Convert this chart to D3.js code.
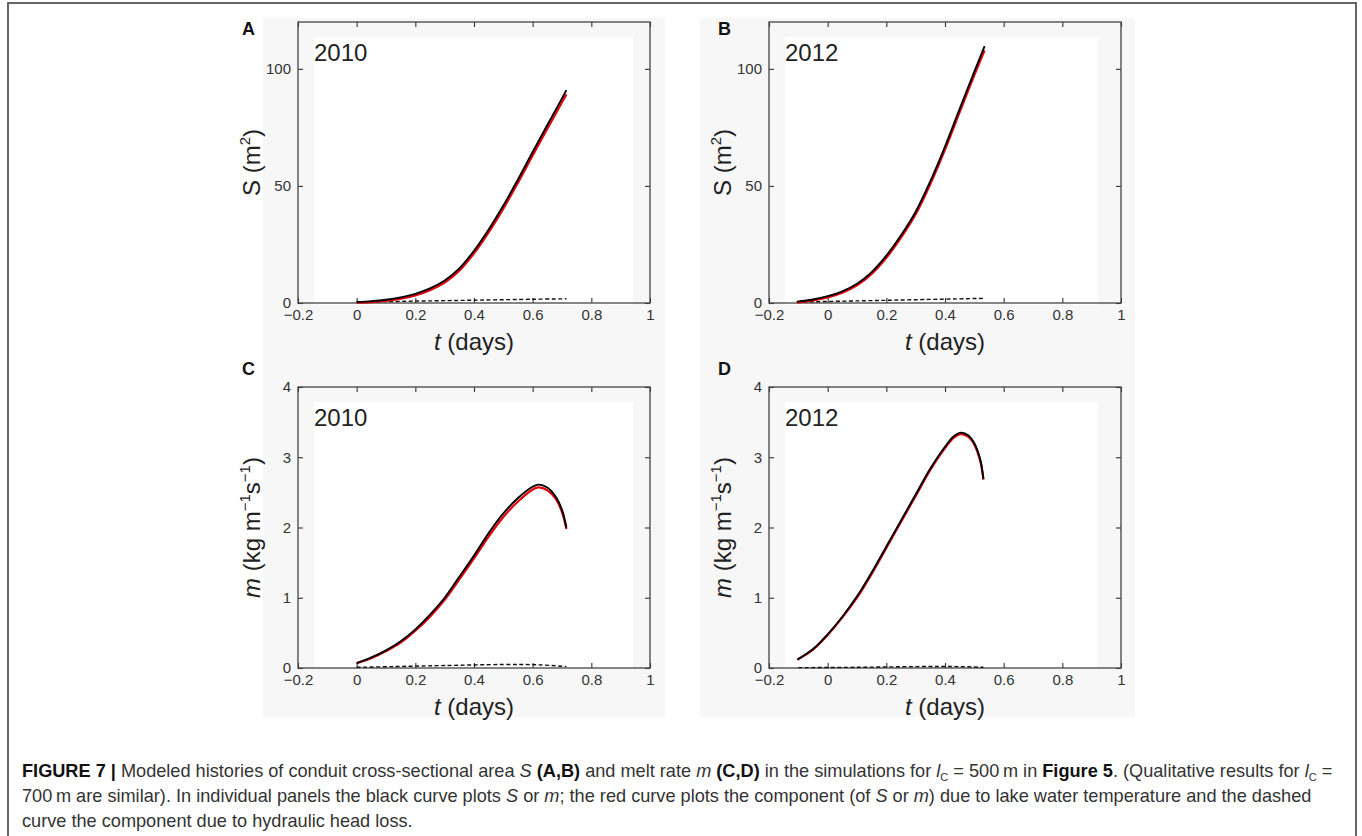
<!DOCTYPE html>
<html>
<head>
<meta charset="utf-8">
<script src="https://cdn.jsdelivr.net/npm/d3@7"></script>
<style>
  body { margin: 0; background: #fff; }
  svg text { font-family: "Liberation Sans", Arial, sans-serif; }
  .axis line { stroke: #333; stroke-width: 1.1; }
</style>
</head>
<body>
<svg id="fig" width="1362" height="836"></svg>
<script>
// tick labels shared by every panel
var xTicks = [-0.2, 0, 0.2, 0.4, 0.6, 0.8, 1];
var sTicks = [0, 50, 100];
var mTicks = [0, 1, 2, 3, 4];

// (A) 2010, conduit area S (m^2)
var tS2010 = [0, 0.05, 0.1, 0.15, 0.2, 0.25, 0.3, 0.35, 0.4, 0.45, 0.5, 0.55, 0.6, 0.65, 0.7, 0.715];
var S2010 = [0.4, 0.8, 1.4, 2.4, 3.9, 6.2, 9.6, 14.8, 22.3, 31.4, 41.6, 52.8, 64.5, 76.0, 87.4, 90.9];
var S2010lake = [0.1, 0.4, 0.9, 1.8, 3.2, 5.4, 8.7, 13.8, 21.2, 30.2, 40.3, 51.4, 63.0, 74.4, 85.7, 89.1];
var tS2010head = [0, 0.2, 0.4, 0.6, 0.715];
var S2010head = [0.4, 0.8, 1.2, 1.6, 1.8];

// (B) 2012, conduit area S (m^2)
var tS2012 = [-0.105, -0.05, 0, 0.05, 0.1, 0.15, 0.2, 0.25, 0.3, 0.35, 0.4, 0.45, 0.5, 0.535];
var S2012 = [0.6, 1.5, 2.9, 5.0, 8.2, 13.2, 20.2, 28.9, 39.0, 52.0, 66.8, 82.9, 98.8, 109.7];
var S2012lake = [0.2, 1.1, 2.4, 4.4, 7.5, 12.4, 19.3, 27.9, 37.9, 50.8, 65.5, 81.5, 97.3, 107.9];
var tS2012head = [-0.105, 0.1, 0.3, 0.535];
var S2012head = [0.4, 0.9, 1.4, 2.0];

// (C) 2010, melt rate m (kg m^-1 s^-1)
var tM2010 = [0, 0.05, 0.1, 0.15, 0.2, 0.25, 0.3, 0.35, 0.4, 0.45, 0.5, 0.55, 0.6, 0.62, 0.65, 0.68, 0.7, 0.715];
var m2010 = [0.07, 0.15, 0.25, 0.38, 0.55, 0.76, 1.0, 1.3, 1.6, 1.92, 2.2, 2.42, 2.58, 2.61, 2.57, 2.43, 2.25, 2.0];
var m2010lake = [0.07, 0.14, 0.24, 0.36, 0.53, 0.73, 0.97, 1.26, 1.56, 1.87, 2.15, 2.37, 2.54, 2.57, 2.53, 2.40, 2.22, 1.98];
var tM2010head = [0, 0.12, 0.3, 0.5, 0.62, 0.715];
var m2010head = [0.01, 0.02, 0.035, 0.05, 0.045, 0.02];

// (D) 2012, melt rate m (kg m^-1 s^-1)
var tM2012 = [-0.103, -0.05, 0, 0.05, 0.1, 0.15, 0.2, 0.25, 0.3, 0.35, 0.4, 0.43, 0.455, 0.48, 0.5, 0.52, 0.531];
var m2012 = [0.12, 0.27, 0.48, 0.73, 1.02, 1.36, 1.73, 2.1, 2.47, 2.84, 3.15, 3.3, 3.35, 3.31, 3.2, 2.97, 2.69];
var m2012lake = [0.12, 0.26, 0.47, 0.72, 1.0, 1.34, 1.71, 2.08, 2.45, 2.82, 3.13, 3.28, 3.33, 3.29, 3.18, 2.95, 2.68];
var tM2012head = [-0.1, 0.1, 0.3, 0.45, 0.531];
var m2012head = [0.005, 0.01, 0.02, 0.02, 0.01];

var W = 352, H = 281;

var svg = d3.select("#fig");

// outer frame of the figure box
svg.append("rect")
  .attr("x", 8).attr("y", 3)
  .attr("width", 1348).attr("height", 900)
  .attr("fill", "none").attr("stroke", "#555").attr("stroke-width", 1.8);

var panels = [
  {left: 298, top: 22, yMax: 120, yTicks: sTicks, year: "2010", letter: "A", lx: -56, ly: 13,
   t: tS2010, v: S2010, lake: S2010lake, th: tS2010head, head: S2010head, qty: "S",
   bg: [263, 18, 402, 360], hole: [314, 37, 319, 268]},
  {left: 769, top: 22, yMax: 120, yTicks: sTicks, year: "2012", letter: "B", lx: -51, ly: 13,
   t: tS2012, v: S2012, lake: S2012lake, th: tS2012head, head: S2012head, qty: "S",
   bg: [700, 18, 435, 360], hole: [785, 37, 313, 268]},
  {left: 298, top: 387, yMax: 4, yTicks: mTicks, year: "2010", letter: "C", lx: -56, ly: -12,
   t: tM2010, v: m2010, lake: m2010lake, th: tM2010head, head: m2010head, qty: "m",
   bg: [263, 378, 402, 339], hole: [314, 402, 319, 267]},
  {left: 769, top: 387, yMax: 4, yTicks: mTicks, year: "2012", letter: "D", lx: -51, ly: -12,
   t: tM2012, v: m2012, lake: m2012lake, th: tM2012head, head: m2012head, qty: "m",
   bg: [700, 378, 435, 339], hole: [785, 402, 313, 267]}
];

// faint scan backgrounds behind the panels
panels.forEach(function (p) {
  svg.append("rect").attr("x", p.bg[0]).attr("y", p.bg[1])
    .attr("width", p.bg[2]).attr("height", p.bg[3]).attr("fill", "#f7f7f7");
  svg.append("rect").attr("x", p.hole[0]).attr("y", p.hole[1])
    .attr("width", p.hole[2]).attr("height", p.hole[3]).attr("fill", "#fff");
});

panels.forEach(function (p) { drawPanel(p); });

function styleAxis(sel) {
  sel.attr("font-size", 15)
    .attr("font-family", "Liberation Sans, Arial, sans-serif");
  sel.selectAll("text").attr("fill", "#333");
}

function drawPanel(p) {
  var x = d3.scaleLinear().domain([-0.2, 1]).range([0, W]);
  var y = d3.scaleLinear().domain([0, p.yMax]).range([H, 0]);

  var g = svg.append("g")
    .attr("class", "panel")
    .attr("transform", "translate(" + p.left + "," + p.top + ")");

  // axes, ticks pointing inward on all four sides
  g.append("g").attr("class", "axis")
    .attr("transform", "translate(0," + H + ")")
    .call(d3.axisBottom(x).tickValues(xTicks).tickSize(-5).tickSizeOuter(0)
      .tickPadding(6).tickFormat(d3.format("")))
    .call(styleAxis);
  g.append("g").attr("class", "axis")
    .call(d3.axisTop(x).tickValues(xTicks).tickSize(-5).tickSizeOuter(0).tickFormat(""));
  g.append("g").attr("class", "axis")
    .call(d3.axisLeft(y).tickValues(p.yTicks).tickSize(-5).tickSizeOuter(0)
      .tickPadding(7).tickFormat(d3.format("")))
    .call(styleAxis);
  g.append("g").attr("class", "axis")
    .attr("transform", "translate(" + W + ",0)")
    .call(d3.axisRight(y).tickValues(p.yTicks).tickSize(-5).tickSizeOuter(0).tickFormat(""));
  g.selectAll(".domain").remove();

  g.append("rect")
    .attr("width", W).attr("height", H)
    .attr("fill", "none").attr("stroke", "#444").attr("stroke-width", 1.3);

  var line = d3.line()
    .x(function (d) { return x(d[0]); })
    .y(function (d) { return y(d[1]); })
    .curve(d3.curveCatmullRom.alpha(0.5));

  // head-loss component (dashed)
  g.append("path")
    .datum(d3.zip(p.th, p.head))
    .attr("d", line)
    .attr("fill", "none").attr("stroke", "#111")
    .attr("stroke-width", 1.4).attr("stroke-dasharray", "4,2.5");

  // lake temperature component (red)
  g.append("path")
    .datum(d3.zip(p.t, p.lake))
    .attr("d", line)
    .attr("fill", "none").attr("stroke", "#e3000b").attr("stroke-width", 2.2);

  // total (black)
  g.append("path")
    .datum(d3.zip(p.t, p.v))
    .attr("d", line)
    .attr("fill", "none").attr("stroke", "#000").attr("stroke-width", 1.9);

  // year
  g.append("text")
    .attr("x", 16).attr("y", 39)
    .attr("font-size", 24).attr("fill", "#222")
    .text(p.year);

  // panel letter
  g.append("text")
    .attr("x", p.lx).attr("y", p.ly)
    .attr("font-size", 18).attr("font-weight", "bold").attr("fill", "#111")
    .text(p.letter);

  // x label
  var xl = g.append("text")
    .attr("x", W / 2).attr("y", H + 47)
    .attr("text-anchor", "middle").attr("font-size", 24).attr("fill", "#222");
  xl.append("tspan").attr("font-style", "italic").text("t");
  xl.append("tspan").text(" (days)");

  // y label
  var yl = g.append("text")
    .attr("transform", "translate(-38," + (H / 2) + ") rotate(-90)")
    .attr("text-anchor", "middle").attr("font-size", 24).attr("fill", "#222");
  if (p.qty === "S") {
    yl.append("tspan").text("S (m");
    yl.append("tspan").attr("font-size", 15).attr("dy", -10).text("2");
    yl.append("tspan").attr("dy", 10).text(")");
  } else {
    yl.append("tspan").attr("font-style", "italic").text("m");
    yl.append("tspan").text(" (kg m");
    yl.append("tspan").attr("font-size", 15).attr("dy", -10).text("\u22121");
    yl.append("tspan").attr("dy", 10).text("s");
    yl.append("tspan").attr("font-size", 15).attr("dy", -10).text("\u22121");
    yl.append("tspan").attr("dy", 10).text(")");
  }
}

// caption: each line is a list of [text, style] pieces
var cap1 = [
  ["FIGURE 7 | ", "b"], ["Modeled histories of conduit cross-sectional area ", ""], ["S", "i"], [" ", ""],
  ["(A,B)", "b"], [" and melt rate ", ""], ["m", "i"], [" ", ""], ["(C,D)", "b"],
  [" in the simulations for ", ""], ["l", "i"], ["C", "sub"], [" = 500\u2009m in ", ""],
  ["Figure 5", "b"], [". (Qualitative results for ", ""], ["l", "i"], ["C", "sub"], [" =", ""]
];
var cap2 = [
  ["700\u2009m are similar). In individual panels the black curve plots ", ""], ["S", "i"], [" or ", ""],
  ["m", "i"], ["; the red curve plots the component (of ", ""], ["S", "i"], [" or ", ""], ["m", "i"],
  [") due to lake water temperature and the dashed", ""]
];
var cap3 = [["curve the component due to hydraulic head loss.", ""]];

var capLines = [cap1, cap2, cap3];
var capY = [777, 802, 827];

var capTexts = capLines.map(function (pieces, i) {
  var t = svg.append("text")
    .attr("x", 22).attr("y", capY[i])
    .attr("font-size", 16).attr("fill", "#333");
  var sub = false;
  pieces.forEach(function (pc) {
    var ts = t.append("tspan").text(pc[0]);
    if (pc[1] === "b") ts.attr("font-weight", "bold").attr("fill", "#111");
    if (pc[1] === "i") ts.attr("font-style", "italic");
    if (pc[1] === "sub") { ts.attr("font-size", "11").attr("dy", 4); sub = true; }
    else if (sub) { ts.attr("dy", -4); sub = false; }
  });
  return t;
});

// size the caption so the first line spans the figure width
var w1 = capTexts[0].node().getComputedTextLength();
var fs = 16 * 1313 / w1;
capTexts.forEach(function (t) { t.attr("font-size", fs); });
</script>
</body>
</html>
